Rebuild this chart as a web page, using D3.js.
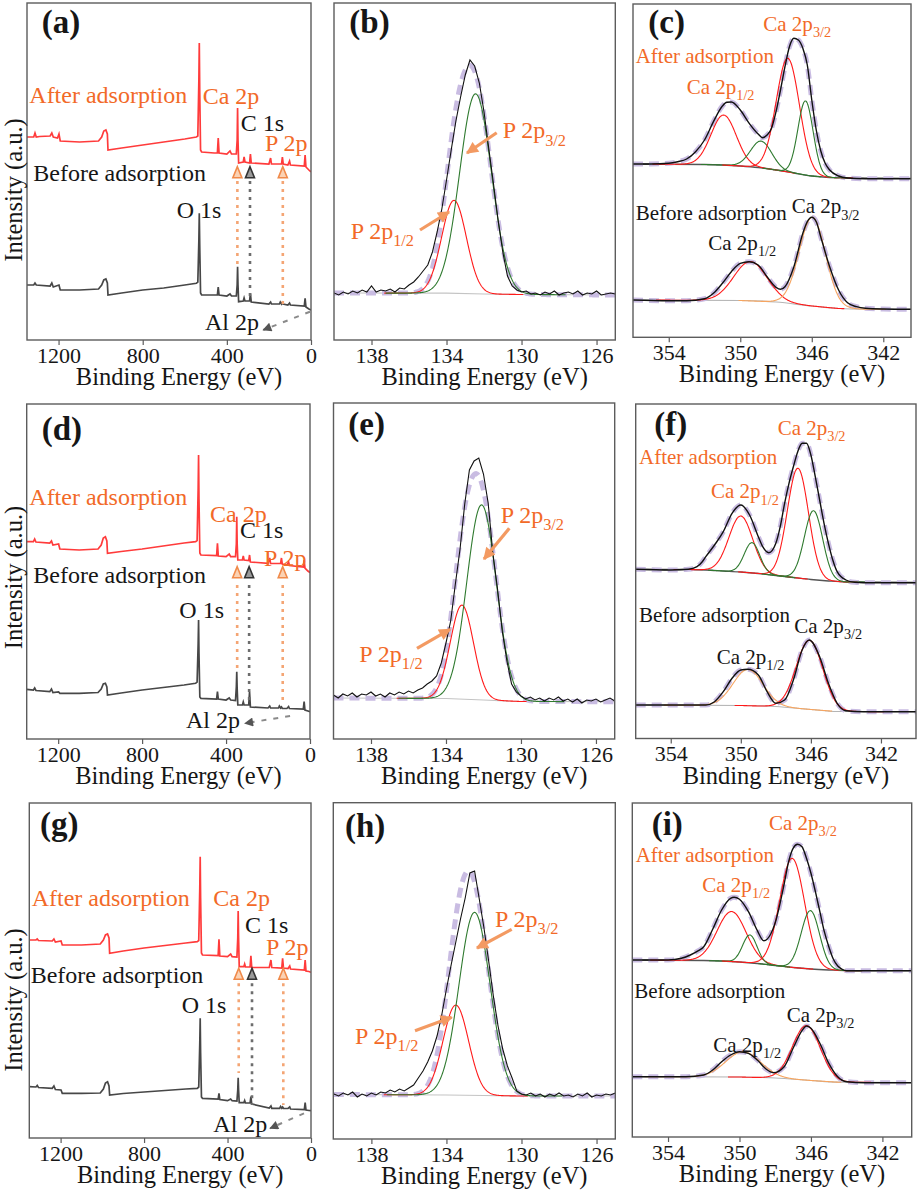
<!DOCTYPE html>
<html>
<head>
<meta charset="utf-8">
<script src="https://cdnjs.cloudflare.com/ajax/libs/d3/7.8.5/d3.min.js"></script>
<style>
  body { margin: 0; background: #fff; }
  svg text { font-family: "Liberation Serif", "Times New Roman", serif; }
</style>
</head>
<body>
<script>
// ---------- survey spectra: [binding energy (eV), intensity (a.u.)] ----------
const surveyAfterA = [[1350,203],[1318,203],[1312,207],[1306,203],[1290,203.5],[1240,204],[1232,207],[1225,203],[1205,202],[1198,206],[1192,199],[1100,198],[1010,199],[995,203],[985,209],[975,210],[968,206],[965,190],[900,192],[800,195],[700,198],[600,201],[545,203],[538,204],[533,260],[531,297],[529,250],[525,190],[520,188],[460,187],[445,187],[441,202],[437,187],[400,186],[385,189],[378,186],[355,186],[351,200],[349,232],[347,200],[344,177],[322,178],[318,183],[314,178],[292,177],[288,186],[284,177],[200,176],[192,182],[188,176],[140,176],[136,183],[132,176],[110,175],[102,179],[98,175],[32,174],[28,185],[24,173],[10,170],[0,168]];
const surveyBeforeA = [[1350,55],[1318,55],[1312,57],[1306,55],[1240,54],[1232,57],[1225,53],[1198,55],[1192,50],[1100,50],[1010,51],[995,55],[985,60],[975,61],[968,57],[965,45],[900,47],[800,50],[700,52],[600,55],[545,56.7],[538,58],[533,100],[531,126.7],[529,95],[525,47],[520,45],[445,45],[441,53],[437,45],[400,44],[385,46],[378,44],[355,44],[351,55],[349,73.3],[347,55],[344,38.3],[322,39],[318,42],[314,39],[292,39],[288,46.7],[284,38],[200,36],[192,38],[188,36],[150,36],[146,38],[140,36],[136,37.5],[132,36],[110,35],[102,37],[98,35],[32,34],[28,41.7],[24,33],[10,31],[0,30]];
const surveyAfterD = [[1350,197.3],[1318,197.3],[1312,200],[1306,197],[1240,196],[1232,198],[1225,194],[1198,195],[1192,190],[1100,189],[1010,190],[995,194],[985,201],[975,202.3],[968,198],[965,185.7],[900,187.5],[800,190],[700,193],[600,196],[545,197.3],[538,198.5],[533,250],[531,284],[529,240],[525,186],[520,184],[445,183.5],[441,195.7],[437,183],[400,182.3],[385,185],[378,182.3],[355,182.3],[351,195],[349,222.3],[347,195],[344,179],[322,179],[318,183],[314,179],[292,178.5],[288,184],[284,177],[200,175.7],[192,181],[188,175.7],[140,175.5],[136,181],[132,175],[110,174],[102,177],[98,173.5],[32,172],[28,179],[24,171],[10,168],[0,166.3]];
const surveyBeforeD = [[1350,49.7],[1318,49],[1312,51],[1306,48.5],[1240,47.3],[1232,50],[1225,46.5],[1198,47],[1192,45.7],[1100,45.7],[1010,46.5],[995,50],[985,55],[975,55.7],[968,52],[965,44],[900,46],[800,49],[700,51.5],[600,54],[545,55.7],[538,57],[533,95],[531,119],[529,85],[525,42],[520,40.7],[445,40],[441,47.3],[437,40],[400,39],[385,41],[378,39],[355,38.5],[351,52],[349,67.3],[347,50],[344,34],[322,34],[318,37],[314,34],[292,34],[288,47.3],[284,32],[200,31],[192,33],[188,31],[150,31],[146,33],[140,31],[136,32],[132,30.7],[110,30.5],[102,32.5],[98,30.5],[32,30],[28,37.3],[24,29],[10,28],[0,27.3]];
const surveyAfterG = [[1350,198],[1318,198],[1312,199],[1306,197.5],[1240,197],[1232,199],[1225,196],[1198,197],[1192,193],[1100,193],[1010,194],[995,198],[985,203],[975,204],[968,200],[965,184.7],[900,187],[800,190],[700,192.5],[600,195],[545,196.3],[538,197.5],[533,250],[531,281.3],[529,240],[525,185],[520,183],[445,182.5],[441,198.7],[437,182],[400,181.3],[385,184],[378,181.3],[355,181],[351,200],[349,227],[347,200],[344,171.3],[322,171.3],[318,174],[314,171],[292,171],[288,182.3],[284,170.5],[200,170.5],[192,178],[188,170.5],[140,170],[136,179.7],[132,170],[110,169.5],[102,172],[98,169],[32,168],[28,178],[24,167],[10,166.5],[0,165.7]];
const surveyBeforeG = [[1350,51.3],[1318,51],[1312,52.5],[1306,50.5],[1240,49.7],[1232,52],[1225,48.5],[1198,48],[1192,44.7],[1100,44.7],[1010,45],[995,49],[985,55],[975,56.3],[968,52],[965,43],[900,44.5],[800,46],[700,47.5],[600,49],[545,49.7],[538,51],[533,95],[531,119.7],[529,85],[525,41],[520,39.7],[445,39],[441,44.7],[437,38.5],[400,37.3],[385,39],[378,37.3],[355,37],[351,48],[349,60.3],[347,48],[344,35.3],[322,35.3],[318,37.5],[314,35],[292,35],[288,41.3],[284,34],[200,30],[192,32],[188,29.7],[150,29.7],[146,31.5],[140,29.7],[136,31],[132,29.7],[110,29.5],[102,31],[98,29],[32,28.5],[28,35.3],[24,28],[10,27.5],[0,27.3]];

// survey markers: Ca 2p, C 1s, P 2p energies and where the dotted guides end
const markEnergyA = [350, 290, 134], markEndA = [73, 43, 35];
const markEnergyD = [347, 290, 130], markEndD = [69, 34, 34];
const markEnergyG = [346.4, 282.7, 132.7], markEndG = [65, 33, 33];

// ---------- P 2p raw scans ----------
const pEnergy = [140,139.75,139.5,139.25,139,138.75,138.5,138.25,138,137.75,137.5,137.25,137,136.75,136.5,136.25,136,135.75,135.5,135.25,135,134.75,134.5,134.25,134,133.75,133.5,133.25,133,132.75,132.5,132.25,132,131.75,131.5,131.25,131,130.75,130.5,130.25,130,129.75,129.5,129.25,129,128.75,128.5,128.25,128,127.75,127.5,127.25,127,126.75,126.5,126.25,126,125.75,125.5,125.25,125];
const pRawB = [47,45,48,46,49,47,50,48,54,48,50,49,51,48,52,51,55,58,63,69,75,88,108,131,160,190,219,243,265,280,274,257,228,192,157,120,88,64,54,50,48,49,46,47,45,48,46,49,45,47,48,46,49,45,47,46,49,45,46,47,46];
const pRawE = [44,41,45,43,46,42,45,44,47,43,45,42,46,44,47,45,48,46,49,51,55,58,63,76,96,118,155,190,235,269,278,281,265,236,186,150,108,78,55,47,43,40,42,39,41,38,41,39,42,38,40,37,40,36,39,38,40,37,39,41,38];
const pRawH = [45,43,46,44,47,42,45,43,46,44,47,46,49,47,50,48,51,54,61,68,77,88,103,124,150,174,197,220,241,266,268,240,211,178,143,113,90,73,61,48,45,44,46,43,45,42,45,43,46,43,44,42,45,43,46,42,44,43,45,44,46];
// fitted peaks [centre eV, height, FWHM eV]: P 2p1/2, P 2p3/2
const pFitB = [[133.6,93,1.55],[132.45,200,2.0]];
const pFitE = [[133.15,94,1.45],[132.1,195,1.85]];
const pFitH = [[133.5,90,1.6],[132.5,183,1.95]];
const pBgB = [[140,47],[134,46.8],[132,46],[130,45.5],[125,45]];
const pBgE = [[140,41],[134,40.5],[132,39],[130,37.5],[125,37.3]];
const pBgH = [[140,44.5],[134,44],[132,43.5],[130,43],[125,43]];

// ---------- Ca 2p scans ----------
const caAfterC = [[356,176],[355,176],[354,176.7],[353.5,178.3],[353,181],[352.5,188.3],[352,200],[351.5,218.3],[351,234],[350.75,237.7],[350.5,238],[350,230],[349.5,216.7],[349,206],[348.75,202.3],[348.5,205],[348.25,211.7],[348,228.3],[347.75,250],[347.5,273.3],[347.25,293.3],[347,301.7],[346.75,300],[346.5,291.7],[346.25,275],[346,240],[345.75,210],[345.5,189.3],[345.25,176.7],[345,170],[344.5,164],[344,162],[343,161.3],[342,161.3],[340.45,161.3]];
const caBeforeC = [[356,40],[354,39.3],[353,39.3],[352,41.3],[351.5,46.7],[351,56.7],[350.5,68.3],[350,76.7],[349.5,78.3],[349,75],[348.5,63.3],[348,52.7],[347.75,50.7],[347.5,53.3],[347,73.3],[346.5,106.7],[346.25,118.3],[346,122.7],[345.75,118.3],[345.5,103.3],[345,73.3],[344.5,50],[344,37.3],[343.5,33.3],[343,31.7],[342,31],[340.45,30.7]];
const caAfterF = [[356,169.2],[354,168.5],[353,169.2],[352.5,171.8],[352.2,176.8],[352,181.8],[351.5,193.5],[351,206.8],[350.5,225.2],[350,233.5],[349.5,223.5],[349,201.8],[348.75,191.8],[348.4,185.8],[348,195.2],[347.75,211.8],[347.5,235.2],[347.25,255.2],[347,271.8],[346.75,286.8],[346.5,295.2],[346.25,295.2],[346,283.5],[345.75,261.8],[345.5,238.5],[345.25,215.2],[345,195.2],[344.75,178.5],[344.5,166.8],[344,158.5],[343.5,156.2],[343,155.8],[340,155.8]];
const caBeforeF = [[356,33.5],[352,33.5],[351.5,36.8],[351,46.8],[350.5,60.2],[350,68.5],[349.6,69.2],[349,63.5],[348.5,46.8],[348,35.2],[347.5,38.5],[347,58.5],[346.5,88.5],[346.1,98.5],[345.5,81.8],[345,55.2],[344.5,35.2],[344,27.8],[343,26.8],[340,26.8]];
const caAfterI = [[356,177],[354,177],[353.25,178.7],[352.75,182],[352.3,186.3],[352,190.3],[351.5,207.7],[351,227],[350.5,238.7],[350.3,239.7],[350,237.7],[349.5,225.3],[349,206.3],[348.64,196.3],[348.25,203],[348,214.3],[347.5,253],[347.25,275.3],[347,288.7],[346.75,292.7],[346.5,290.3],[346.25,278.7],[346,263.7],[345.75,245.3],[345.5,225.3],[345.25,205.3],[345,190.3],[344.75,178],[344.5,171],[344.25,167.7],[344,166.3],[340.36,166.3]];
const caBeforeI = [[356,60.3],[353,60.3],[352,62],[351.5,67],[351,75.3],[350.5,82],[350,85.3],[349.5,83.7],[349,77],[348.5,67.7],[348.1,64.3],[347.5,70.3],[347,88.7],[346.5,106.3],[346.25,111],[346,108.7],[345.5,93.7],[345,73.7],[344.5,60.3],[344,55.3],[343,54.3],[340.36,54.3]];
// Shirley-type backgrounds
const caBgAfterC = [[356,176],[352,175.5],[351,175],[350,174],[349,172.5],[348,170],[347,167],[346,164],[345,162.5],[344,162],[340.45,161.7]];
const caBgBeforeC = [[356,40],[350,39.5],[348,38],[346,34],[344.5,31.5],[343,30.8],[340.45,30.7]];
const caBgAfterF = [[356,169],[353,169],[352,168.5],[351,167.5],[350,166.5],[349,165],[348,163],[347,161],[346,159],[345,157.5],[344,156.5],[340,156]];
const caBgBeforeF = [[356,33.5],[350,33],[348,32],[346,29],[344.5,27],[340,26.8]];
const caBgAfterI = [[356,177],[352,176.5],[351,176],[350,175],[349,173.5],[348,171.5],[347,169.5],[346,168],[345,167],[344,166.3],[340.36,166.3]];
const caBgBeforeI = [[356,60.3],[350,60],[348,59],[346,56.5],[344.5,54.8],[340.36,54.3]];
// fitted peaks [centre eV, height, FWHM eV]
const caFitAfterC = [[350.93,50,1.66],[348.83,26.8,1.4],[347.34,113.7,1.53],[346.35,74,1.0]];
const caFitAfterF = [[350.0,56,1.6],[349.36,30.3,1.04],[346.74,109.7,1.42],[345.85,69,1.23]];
const caFitAfterI = [[350.44,50,1.9],[349.42,27.9,0.95],[347.05,109,1.64],[346.03,58.3,1.21]];
const caFitBeforeC = [[349.43,39.3,2.2],[345.97,88.7,1.72]];
const caFitBeforeF = [[349.59,36.2,2.0],[346.08,69,1.78]];
const caFitBeforeI = [[349.79,25.3,2.3],[346.25,54.5,1.83]];

const surveyTicks = [1200, 800, 400, 0];
const pTicks = [138, 134, 130, 126];
const caTicks = [354, 350, 346, 342];

// ---------- layout ----------
const ORANGE = "#f26a28", INK = "#161616", FRAME = "#5c5c5c";
const frames = {
  a: {x0: 27, x1: 311, y0: 3, y1: 340, base: 340, dom: [1350, 0]},
  b: {x0: 334, x1: 615.3, y0: 3, y1: 340, base: 340, dom: [140, 125]},
  c: {x0: 633, x1: 911, y0: 4, y1: 337.3, base: 340, dom: [356, 340.45]},
  d: {x0: 26.7, x1: 310, y0: 404, y1: 739, base: 739, dom: [1350, 0]},
  e: {x0: 333.5, x1: 614.7, y0: 403, y1: 739, base: 739, dom: [140, 125]},
  f: {x0: 635.7, x1: 916, y0: 404, y1: 738.5, base: 738.5, dom: [356, 340]},
  g: {x0: 29.3, x1: 311, y0: 803, y1: 1138, base: 1138, dom: [1350, 0]},
  h: {x0: 333.3, x1: 615.3, y0: 802.7, y1: 1139, base: 1139, dom: [140.03, 125]},
  i: {x0: 632.3, x1: 911.7, y0: 803, y1: 1137, base: 1137, dom: [356, 340.36]}
};

const svg = d3.select("body").append("svg")
  .attr("width", 917).attr("height", 1192)
  .style("background", "#fff");
const defs = svg.append("defs");

function arrowMarker(id, color, w, h) {
  defs.append("marker").attr("id", id)
    .attr("viewBox", "0 -5 10 10").attr("refX", 9).attr("refY", 0)
    .attr("markerUnits", "userSpaceOnUse")
    .attr("markerWidth", w).attr("markerHeight", h)
    .attr("orient", "auto")
    .append("path").attr("d", "M0,-5L10,0L0,5Z").attr("fill", color);
}
arrowMarker("ahOrange", "#f39a62", 14, 12);
arrowMarker("ahGray", "#555", 14, 9);

function put(g, x, y, txt, o = {}) {
  const size = o.size || 24;
  const t = g.append("text").attr("x", x).attr("y", y)
    .attr("font-size", size).attr("fill", o.color || INK)
    .attr("font-weight", o.bold ? "bold" : "normal")
    .attr("text-anchor", o.anchor || "start");
  t.append("tspan").text(txt);
  if (o.sub) t.append("tspan").attr("font-size", size * 0.68).attr("dy", size * 0.3).text(o.sub);
  return t;
}

function panel(key, ticks, letter, lx, ly) {
  const f = frames[key];
  const g = svg.append("g");
  const x = d3.scaleLinear().domain(f.dom).range([f.x0, f.x1]);
  const y = d3.scaleLinear().domain([0, 336]).range([f.base, f.base - 336]);
  defs.append("clipPath").attr("id", "clip-" + key)
    .append("rect").attr("x", f.x0).attr("y", f.y0)
    .attr("width", f.x1 - f.x0).attr("height", f.y1 - f.y0);
  const plot = g.append("g").attr("clip-path", `url(#clip-${key})`);

  const axis = d3.axisBottom(x).tickValues(ticks).tickSize(5).tickPadding(2).tickFormat(d3.format("d"));
  const ag = g.append("g").attr("transform", `translate(0,${f.y1})`).call(axis);
  ag.select(".domain").remove();
  ag.selectAll("line").attr("stroke", FRAME).attr("stroke-width", 1.2);
  ag.selectAll("text").attr("font-size", 22).attr("fill", INK)
    .attr("font-family", "Liberation Serif, Times New Roman, serif");

  g.append("rect").attr("x", f.x0).attr("y", f.y0)
    .attr("width", f.x1 - f.x0).attr("height", f.y1 - f.y0)
    .attr("fill", "none").attr("stroke", FRAME).attr("stroke-width", 1.4);

  put(g, (f.x0 + f.x1) / 2 + 10, f.y1 + 45, "Binding Energy (eV)", {size: 24.5, anchor: "middle"});
  put(g, lx, ly, letter, {size: 33, bold: true});
  return {g, plot, x, y};
}

const line = (x, y) => d3.line().x(d => x(d[0])).y(d => y(d[1]));

// piecewise-linear background through the listed points
function bgFn(bg) {
  return d3.scaleLinear().domain(bg.map(d => d[0])).range(bg.map(d => d[1])).clamp(true);
}
function gauss(p, e) {
  const k = 4 * Math.LN2 / (p[2] * p[2]);
  return p[1] * Math.exp(-k * (e - p[0]) * (e - p[0]));
}
function compCurve(p, bgAt) {
  return d3.range(p[0] + 2.4 * p[2], p[0] - 2.4 * p[2], -0.03).map(e => [e, bgAt(e) + gauss(p, e)]);
}

// ---------- survey panels ----------
function survey(key, letter, lx, ly, after, before, markE, markEnd, tipI, topI, alFrom, alTo, notes, ylabY) {
  const {g, plot, x, y} = panel(key, surveyTicks, letter, lx, ly);
  plot.append("path").datum(after).attr("d", line(x, y))
    .attr("fill", "none").attr("stroke", "#ff3b3b").attr("stroke-width", 1.7);
  plot.append("path").datum(before).attr("d", line(x, y))
    .attr("fill", "none").attr("stroke", "#474747").attr("stroke-width", 1.7);

  const cols = [["#f4a574", "#f08a4a", "#fbd2b4"], ["#6d6d6d", "#333", "#9a9a9a"], ["#f4a574", "#f08a4a", "#fbd2b4"]];
  markE.forEach((e, i) => {
    const c = cols[i];
    g.append("line").attr("x1", x(e)).attr("x2", x(e)).attr("y1", y(topI)).attr("y2", y(markEnd[i]))
      .attr("stroke", c[0]).attr("stroke-width", 2.6).attr("stroke-dasharray", "3,5");
    const tx = x(e), ty = y(tipI);
    g.append("path").attr("d", `M${tx},${ty}L${tx + 4.5},${ty + 11}L${tx - 4.5},${ty + 11}Z`)
      .attr("fill", c[2]).attr("stroke", c[1]).attr("stroke-width", 1.6);
  });

  g.append("line").attr("x1", x(alFrom[0])).attr("y1", y(alFrom[1]))
    .attr("x2", x(alTo[0])).attr("y2", y(alTo[1]))
    .attr("stroke", "#8a8a8a").attr("stroke-width", 2).attr("stroke-dasharray", "5,7")
    .attr("marker-end", "url(#ahGray)");

  notes.forEach(n => put(g, n[1], n[2], n[0], {color: n[3] ? ORANGE : INK}));

  g.append("text").attr("transform", `translate(22,${ylabY}) rotate(-90)`)
    .attr("text-anchor", "middle").attr("font-size", 24.5).attr("fill", INK)
    .text("Intensity (a.u.)");
}

// ---------- P 2p panels ----------
function pPanel(key, letter, lx, ly, raw, fit, bg, l32, a32, l12, a12) {
  const {g, plot, x, y} = panel(key, pTicks, letter, lx, ly);
  const bgAt = bgFn(bg);
  const env = d3.range(140, 124.99, -0.05).map(e => [e, bgAt(e) + gauss(fit[0], e) + gauss(fit[1], e)]);
  plot.append("path").datum(bg).attr("d", line(x, y))
    .attr("fill", "none").attr("stroke", "#c4c4c4").attr("stroke-width", 1.2);
  plot.append("path").datum(env).attr("d", line(x, y))
    .attr("fill", "none").attr("stroke", "#c9bce2").attr("stroke-width", 5)
    .attr("stroke-dasharray", "10,6");
  plot.append("path").datum(compCurve(fit[0], bgAt)).attr("d", line(x, y))
    .attr("fill", "none").attr("stroke", "#ff1a1a").attr("stroke-width", 1.1);
  plot.append("path").datum(compCurve(fit[1], bgAt)).attr("d", line(x, y))
    .attr("fill", "none").attr("stroke", "#2f7a2f").attr("stroke-width", 1.1);
  plot.append("path").datum(pEnergy.map((e, i) => [e, raw[i]])).attr("d", line(x, y))
    .attr("fill", "none").attr("stroke", "#111").attr("stroke-width", 1.1);

  put(g, l32[0], l32[1], "P 2p", {color: ORANGE, sub: "3/2"});
  put(g, l12[0], l12[1], "P 2p", {color: ORANGE, sub: "1/2"});
  [a32, a12].forEach(a => g.append("line")
    .attr("x1", a[0]).attr("y1", a[1]).attr("x2", a[2]).attr("y2", a[3])
    .attr("stroke", "#f39a62").attr("stroke-width", 3.2).attr("marker-end", "url(#ahOrange)"));
}

// ---------- Ca 2p panels ----------
function caPanel(key, letter, lx, ly, after, before, bgA, bgB, fitA, fitB, colB, notes) {
  const {g, plot, x, y} = panel(key, caTicks, letter, lx, ly);
  const upColors = ["#ff1a1a", "#2f7a2f", "#ff1a1a", "#2f7a2f"];
  const draw = (data, color, w, dash) => {
    const p = plot.append("path").datum(data).attr("d", line(x, y).curve(d3.curveMonotoneX))
      .attr("fill", "none").attr("stroke", color).attr("stroke-width", w);
    if (dash) p.attr("stroke-dasharray", dash);
  };
  const bgAtA = bgFn(bgA), bgAtB = bgFn(bgB);
  // after adsorption
  draw(bgA, "#555", 1.3);
  draw(after, "#c9bce2", 5, "10,6");
  fitA.forEach((p, i) => draw(compCurve(p, bgAtA), upColors[i], 1.1));
  draw(after, "#111", 1.4);
  // before adsorption
  draw(bgB, "#b5b5b5", 1.2);
  draw(before, "#c9bce2", 5, "10,6");
  fitB.forEach((p, i) => draw(compCurve(p, bgAtB), colB[i], 1.1));
  draw(before, "#111", 1.4);

  notes.forEach(n => put(g, n[1], n[2], n[0], {size: 21, color: n[3] ? ORANGE : INK, sub: n[4]}));
}

// ---------- draw ----------
survey("a", "(a)", 41.7, 33, surveyAfterA, surveyBeforeA, markEnergyA, markEndA, 173.3, 159,
  [5, 28.3], [227, 10],
  [["After adsorption", 29.3, 103, true], ["Ca 2p", 202.7, 104, true], ["C 1s", 240.7, 131],
   ["P 2p", 265, 151, true], ["Before adsorption", 33.3, 181], ["O 1s", 176.7, 218], ["Al 2p", 205, 330]],
  190);
survey("d", "(d)", 41.7, 440, surveyAfterD, surveyBeforeD, markEnergyD, markEndD, 172.3, 154,
  [95, 23], [310, 15.7],
  [["After adsorption", 29.3, 505, true], ["Ca 2p", 210, 521.7, true], ["C 1s", 240, 538.3],
   ["P 2p", 264, 566, true], ["Before adsorption", 33.3, 583.3], ["O 1s", 179.3, 618.3], ["Al 2p", 186, 728.3]],
  577.5);
survey("g", "(g)", 40, 835, surveyAfterG, surveyBeforeG, markEnergyG, markEndG, 169.7, 154.7,
  [33.5, 24.7], [196, 9.7],
  [["After adsorption", 31.7, 906, true], ["Ca 2p", 213.3, 906, true], ["C 1s", 245, 933.3],
   ["P 2p", 266, 955, true], ["Before adsorption", 30.7, 982.7], ["O 1s", 181.7, 1013.3], ["Al 2p", 213.3, 1131.7]],
  1000);

pPanel("b", "(b)", 349.3, 33, pRawB, pFitB, pBgB,
  [502.7, 138.3], [496.7, 132.7, 467, 153], [350.7, 239], [420, 230, 449, 212]);
pPanel("e", "(e)", 348.3, 435, pRawE, pFitE, pBgE,
  [500.7, 522.7], [509.3, 528.3, 484, 559], [359.3, 661.7], [417, 648.3, 450, 629.3]);
pPanel("h", "(h)", 345, 836.7, pRawH, pFitH, pBgH,
  [495, 926.7], [511.7, 929.3, 477, 948], [355, 1044], [415, 1030.7, 451.7, 1017.3]);

caPanel("c", "(c)", 648.3, 33, caAfterC, caBeforeC, caBgAfterC, caBgBeforeC, caFitAfterC, caFitBeforeC,
  ["#ff1a1a", "#f6a560"],
  [["Ca 2p", 763.3, 30.7, true, "3/2"], ["After adsorption", 635.7, 63.3, true], ["Ca 2p", 686.7, 94, true, "1/2"],
   ["Before adsorption", 635.7, 220], ["Ca 2p", 791.7, 213.3, false, "3/2"], ["Ca 2p", 708.3, 250, false, "1/2"]]);
caPanel("f", "(f)", 654.3, 435, caAfterF, caBeforeF, caBgAfterF, caBgBeforeF, caFitAfterF, caFitBeforeF,
  ["#f6a560", "#ff1a1a"],
  [["Ca 2p", 777.7, 435, true, "3/2"], ["After adsorption", 639, 464, true], ["Ca 2p", 711, 498.3, true, "1/2"],
   ["Before adsorption", 639, 621.7], ["Ca 2p", 794.3, 632.7, false, "3/2"], ["Ca 2p", 716.7, 664, false, "1/2"]]);
caPanel("i", "(i)", 651.7, 835, caAfterI, caBeforeI, caBgAfterI, caBgBeforeI, caFitAfterI, caFitBeforeI,
  ["#f6a560", "#ff1a1a"],
  [["Ca 2p", 769, 830, true, "3/2"], ["After adsorption", 635.7, 861.7, true], ["Ca 2p", 702.3, 891.7, true, "1/2"],
   ["Before adsorption", 634.3, 998.3], ["Ca 2p", 786.7, 1021.7, false, "3/2"], ["Ca 2p", 713.3, 1051.7, false, "1/2"]]);
</script>
</body>
</html>
